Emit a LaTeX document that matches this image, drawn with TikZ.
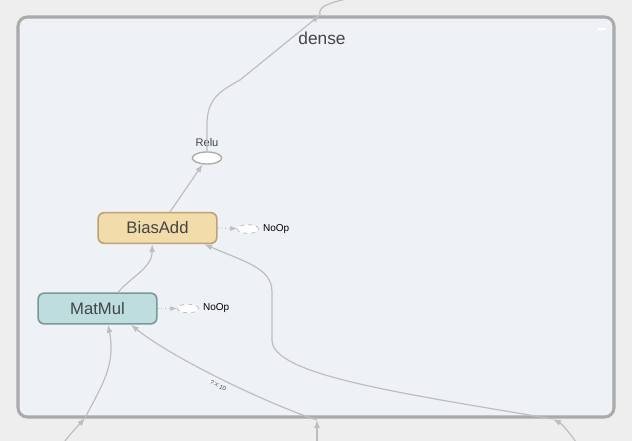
\documentclass[tikz,border=0pt]{standalone}
\usepackage{fontspec}
\setmainfont{Liberation Sans}
\usetikzlibrary{shapes.geometric,arrows.meta}

\definecolor{pagebg}{RGB}{238,238,238}
\definecolor{panelbg}{RGB}{238,241,246}
\definecolor{panelline}{RGB}{170,170,170}
\definecolor{edgecol}{RGB}{190,190,190}
\definecolor{biasfill}{RGB}{241,220,170}
\definecolor{biasline}{RGB}{188,163,112}
\definecolor{mulfill}{RGB}{190,221,222}
\definecolor{mulline}{RGB}{122,152,152}
\definecolor{txtcol}{RGB}{68,68,68}

\begin{document}
\begin{tikzpicture}[x=0.75pt,y=-0.75pt,
    opnode/.style={rectangle, rounded corners=4.5pt, line width=1.2pt,
      minimum width=89pt, minimum height=23pt, inner sep=0pt,
      font=\fontsize{12.5}{14}\selectfont, text=txtcol},
    flow/.style={draw=edgecol, line width=0.9pt,
      -{Latex[length=6pt,width=4.5pt]}},
    ctrlflow/.style={draw=edgecol, line width=0.8pt, dotted,
      -{Latex[length=5pt,width=4pt]}},
    noop/.style={ellipse, draw=edgecol, dashed, fill=white, line width=0.6pt,
      minimum width=16pt, minimum height=6.5pt, inner sep=0pt},
    smalltext/.style={font=\fontsize{7.5}{8}\selectfont, text=black}]
  \useasboundingbox (0,0) rectangle (632,441);
  \fill[pagebg] (0,0) rectangle (632,441);

  % the dense group
  \draw[panelline, fill=panelbg, line width=2.3pt, rounded corners=7pt]
    (18,17) rectangle (614,417);
  \node[font=\fontsize{13}{15}\selectfont, text=txtcol] (title) at (322,38) {dense};
  \draw[white, line width=1.3pt] (598,29) -- (606,29);

  % ops
  \node[ellipse, draw=panelline, fill=white, line width=1pt,
    minimum width=22pt, minimum height=9pt, inner sep=0pt] (relu) at (207,158) {};
  \node[font=\fontsize{8.3}{9}\selectfont, text=txtcol] (relulabel) at (207,143) {Relu};
  \node[opnode, fill=biasfill, draw=biasline] (bias) at (157.5,228) {BiasAdd};
  \node[opnode, fill=mulfill, draw=mulline] (matmul) at (97.5,308.5) {MatMul};

  \node[noop] (noopA) at (248,229) {};
  \node[smalltext, anchor=west] (noopAlabel) at ([xshift=-0.5pt]noopA.east) {NoOp};
  \node[noop] (noopB) at (188,308.5) {};
  \node[smalltext, anchor=west] (noopBlabel) at ([xshift=-0.5pt]noopB.east) {NoOp};

  % where edges cross the border
  \coordinate (inA) at (62,445);
  \coordinate (bordA) at (85,418);
  \coordinate (inB) at (317,445);
  \coordinate (bordB) at (317,420);
  \coordinate (inC) at (578,445);
  \coordinate (bordC) at (553,419);
  \coordinate (bordD) at (320,15);
  \coordinate (outD) at (356,-3);

  % edges
  \draw[flow] ([xshift=9.4pt]bias.north) -- (relu);
  \draw[flow] ([xshift=15.4pt]matmul.north) .. controls (132,276) and (152,268) .. ([xshift=-4pt]bias.south);
  \draw[flow] (relu.north) -- (207,125) .. controls (207,100) and (218,92) .. (240,80) -- (bordD);
  \draw[edgecol, line width=0.9pt] (bordD) .. controls (318,7) and (326,3) .. (outD);

  \draw[flow] (inA) .. controls (70,434) and (78,426) .. (bordA);
  \draw[flow] (bordA) .. controls (102,385) and (116,365) .. ([xshift=7.9pt]matmul.south);

  \draw[flow] (inB) -- (bordB);
  \draw[flow] (bordB) .. controls (268,404) and (172,358) .. ([xshift=25pt]matmul.south);
  \node[font=\fontsize{4.5}{5}\selectfont, text=txtcol, rotate=-28] (shapelabel) at (218,386) {?$\times$10};

  \draw[flow] (inC) .. controls (570,433) and (562,424) .. (bordC);
  \draw[flow] (bordC) .. controls (400,393) and (272,375) .. (272,340) -- (272,292)
    .. controls (272,268) and (245,262) .. ([xshift=35pt]bias.south);

  \draw[ctrlflow] (bias.east) -- (noopA);
  \draw[ctrlflow] (matmul.east) -- (noopB);
\end{tikzpicture}
\end{document}
